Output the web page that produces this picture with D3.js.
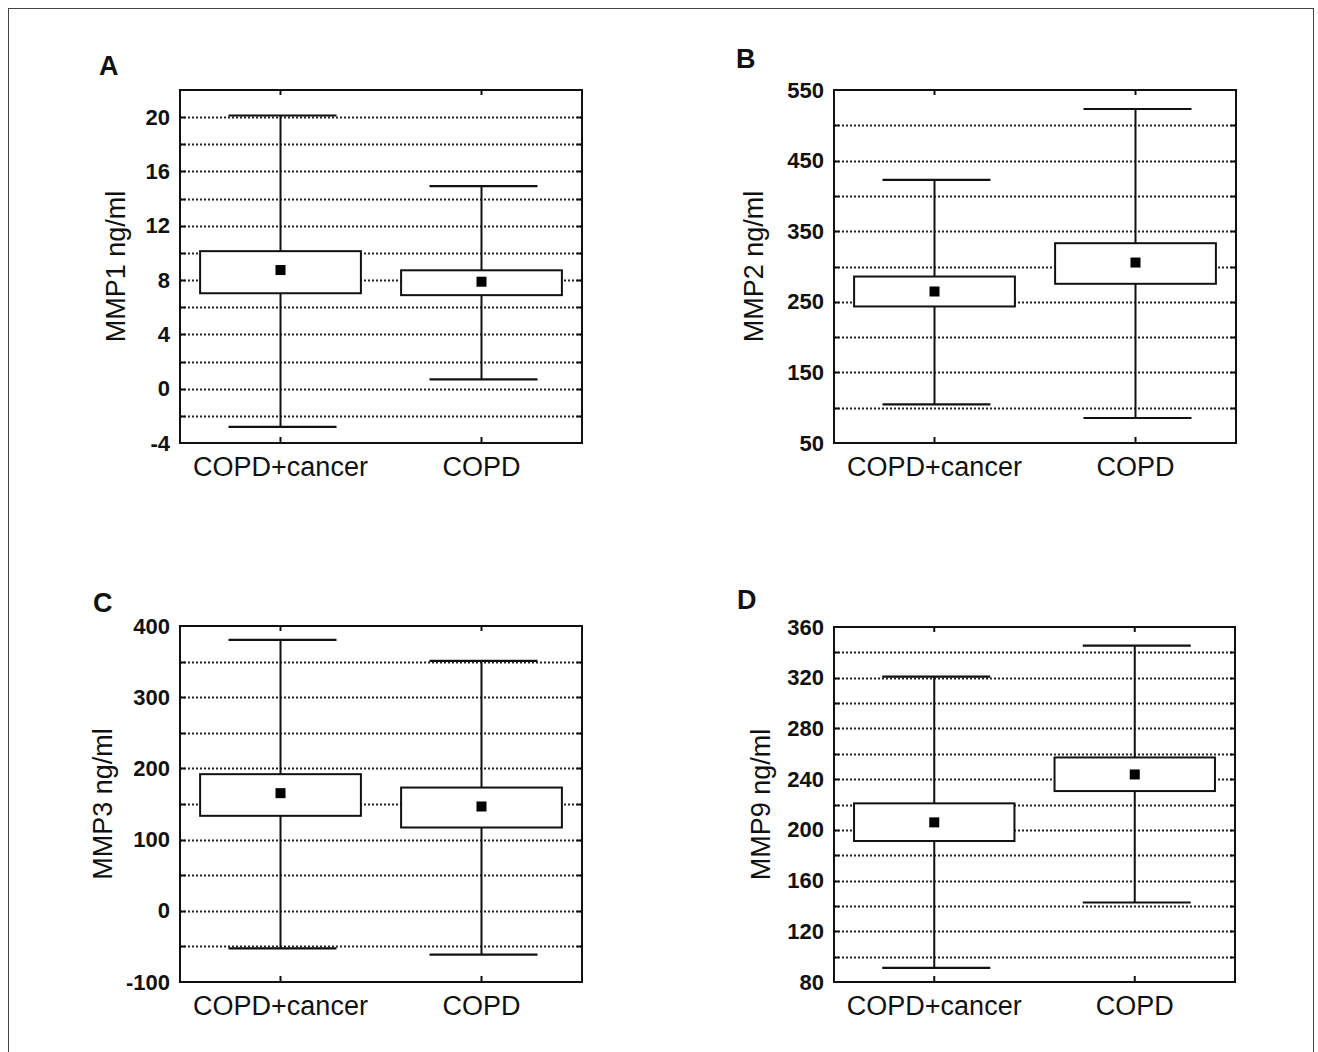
<!DOCTYPE html>
<html><head><meta charset="utf-8">
<script src="https://cdn.jsdelivr.net/npm/d3@7"></script>
<style>body{margin:0;background:#fff}svg{display:block;font-family:"Liberation Sans",Arial,sans-serif}</style>
</head><body>
<svg id="c" width="1318" height="1052"></svg>
<script>
const panelLetters = ["A","B","C","D"];
const categories = ["COPD+cancer","COPD"];
const yTitles = ["MMP1 ng/ml","MMP2 ng/ml","MMP3 ng/ml","MMP9 ng/ml"];
const yMin = [-4, 50, -100, 80];
const yMax = [22, 550, 400, 360];
const gridStep = [2, 50, 50, 20];
const tickLabelsA = [-4,0,4,8,12,16,20];
const tickLabelsB = [50,150,250,350,450,550];
const tickLabelsC = [-100,0,100,200,300,400];
const tickLabelsD = [80,120,160,200,240,280,320,360];
const tickLabels = [tickLabelsA, tickLabelsB, tickLabelsC, tickLabelsD];
// per panel: [COPD+cancer, COPD]
const means     = [[8.74, 7.88], [264.6, 305.6], [165.2, 146.5], [205.9, 243.7]];
const boxLow    = [[7.03, 6.89], [243.4, 275.5], [133.4, 117.0], [191.2, 230.6]];
const boxHigh   = [[10.13, 8.72], [285.8, 333.0], [191.9, 173.1], [220.9, 257.1]];
const whiskLow  = [[-2.81, 0.68], [104.7, 85.4], [-52.8, -61.6], [91.2, 142.7]];
const whiskHigh = [[20.12, 14.92], [422.7, 523.1], [380.4, 350.9], [320.9, 345.3]];

const svg = d3.select("#c");
svg.append("rect").attr("x",8.5).attr("y",8.5).attr("width",1305).attr("height",1060)
  .attr("fill","none").attr("stroke","#444").attr("stroke-width",1);

const frames = [
  {x:180, y:90, w:402, h:353, lx:99, ly:75, tx:116},
  {x:834, y:90, w:402, h:353, lx:736, ly:68, tx:754},
  {x:180, y:626, w:402, h:356, lx:93, ly:612, tx:103},
  {x:834, y:627, w:401, h:355, lx:737, ly:609, tx:761}
];

frames.forEach((f, i) => {
  const g = svg.append("g");
  const y = d3.scaleLinear().domain([yMin[i], yMax[i]]).range([f.y + f.h, f.y]);
  const x = d3.scaleBand().domain(categories).range([f.x, f.x + f.w]);
  const xc = c => x(c) + x.bandwidth() / 2;

  // gridlines
  const grid = d3.range(yMin[i] + gridStep[i], yMax[i] - gridStep[i] / 2, gridStep[i]);
  g.selectAll("line.grid").data(grid).join("line")
    .attr("x1", f.x).attr("x2", f.x + f.w)
    .attr("y1", d => Math.round(y(d)) + 0.5).attr("y2", d => Math.round(y(d)) + 0.5)
    .attr("stroke", "#222").attr("stroke-width", 1.8).attr("stroke-dasharray", "2,2");

  // inner ticks left & right
  g.selectAll("line.tl").data(grid).join("line")
    .attr("x1", f.x).attr("x2", f.x + 5)
    .attr("y1", d => Math.round(y(d)) + 0.5).attr("y2", d => Math.round(y(d)) + 0.5)
    .attr("stroke", "#111").attr("stroke-width", 2);
  g.selectAll("line.tr").data(grid).join("line")
    .attr("x1", f.x + f.w - 5).attr("x2", f.x + f.w)
    .attr("y1", d => Math.round(y(d)) + 0.5).attr("y2", d => Math.round(y(d)) + 0.5)
    .attr("stroke", "#111").attr("stroke-width", 2);

  // y tick labels via axis
  const ax = d3.axisLeft(y).tickValues(tickLabels[i]).tickSize(0).tickPadding(10).tickFormat(d => String(d));
  const axg = g.append("g").attr("transform", `translate(${f.x},0)`).call(ax);
  axg.select(".domain").remove();
  axg.selectAll("text").attr("font-size", 22).attr("font-weight", "bold").attr("fill", "#111")
    .attr("font-family", "Liberation Sans, Arial, sans-serif");

  // x ticks top/bottom
  categories.forEach(c => {
    g.append("line").attr("x1", xc(c)).attr("x2", xc(c)).attr("y1", f.y).attr("y2", f.y + 5)
      .attr("stroke", "#111").attr("stroke-width", 2);
    g.append("line").attr("x1", xc(c)).attr("x2", xc(c)).attr("y1", f.y + f.h).attr("y2", f.y + f.h - 6)
      .attr("stroke", "#111").attr("stroke-width", 2);
  });

  // category labels
  g.selectAll("text.cat").data(categories).join("text")
    .attr("x", d => xc(d)).attr("y", f.y + f.h + 33)
    .attr("text-anchor", "middle").attr("font-size", 27).attr("fill", "#111").text(d => d);

  // whiskers
  const boxW = f.w * 0.4, capW = 108;
  categories.forEach((c, j) => {
    const cx = xc(c);
    g.append("line").attr("x1", cx).attr("x2", cx)
      .attr("y1", y(whiskLow[i][j])).attr("y2", y(whiskHigh[i][j]))
      .attr("stroke", "#111").attr("stroke-width", 2);
    [whiskLow[i][j], whiskHigh[i][j]].forEach(v => {
      g.append("line").attr("x1", cx - capW / 2 + 2).attr("x2", cx + capW / 2 + 2)
        .attr("y1", y(v)).attr("y2", y(v)).attr("stroke", "#111").attr("stroke-width", 2.2);
    });
    g.append("rect").attr("x", cx - boxW / 2).attr("width", boxW)
      .attr("y", y(boxHigh[i][j])).attr("height", y(boxLow[i][j]) - y(boxHigh[i][j]))
      .attr("fill", "#fff").attr("stroke", "#111").attr("stroke-width", 2);
    g.append("rect").attr("x", cx - 5).attr("y", y(means[i][j]) - 5).attr("width", 10).attr("height", 10)
      .attr("fill", "#000");
  });

  // frame
  g.append("rect").attr("x", f.x).attr("y", f.y).attr("width", f.w).attr("height", f.h)
    .attr("fill", "none").attr("stroke", "#111").attr("stroke-width", 2);

  // y title
  g.append("text").attr("transform", `translate(${f.tx},${f.y + f.h / 2}) rotate(-90)`)
    .attr("text-anchor", "middle").attr("dominant-baseline", "central")
    .attr("font-size", 27).attr("fill", "#111").text(yTitles[i]);

  // panel letter
  g.append("text").attr("x", f.lx).attr("y", f.ly).attr("font-size", 27).attr("font-weight", "bold")
    .attr("fill", "#111").text(panelLetters[i]);
});
</script>
</body></html>
